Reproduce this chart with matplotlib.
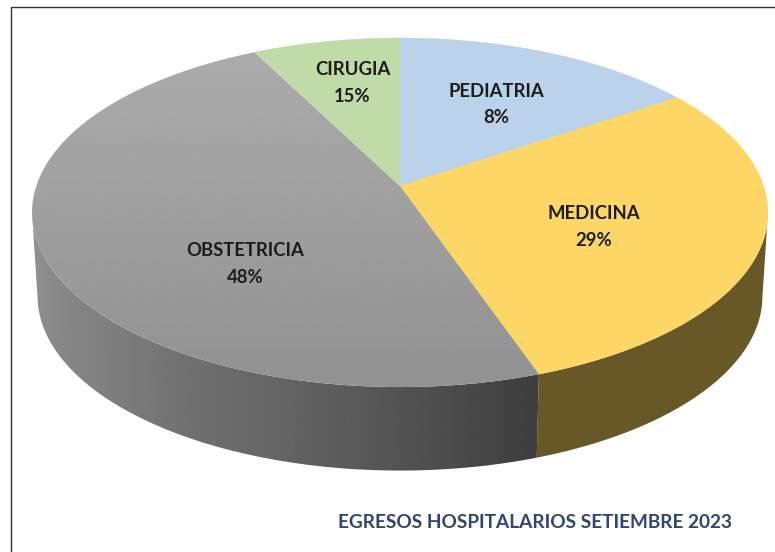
import numpy as np
import matplotlib
matplotlib.use("Agg")
import matplotlib.pyplot as plt
from matplotlib.patches import PathPatch, Polygon
from matplotlib.path import Path

plt.rcParams['font.family'] = ['Lato', 'DejaVu Sans']

categories = ["PEDIATRIA", "MEDICINA", "OBSTETRICIA", "CIRUGIA"]
percent_labels = ["8%", "29%", "48%", "15%"]
slice_shares = [15.5, 29.2, 47.8, 7.5]   # visual share of each slice in the reference
top_colors = ["#BAD3EB", "#FCD766", None, "#C0DAA8"]
title = "EGRESOS HOSPITALARIOS SETIEMBRE 2023"

CX, CY, AX_, AY_, K = 400.0, 186.0, 363.7, 170.5, 0.152
DEPTH, SHRINK = 83.5, 0.985


def rim(theta, r=1.0):
    X, Y = r * np.sin(theta), r * np.cos(theta)
    w = 1 + K * Y
    return CX + AX_ * X / w, CY - AY_ * Y / w


def low(x, y):
    return CX + (x - CX) * SHRINK, y + DEPTH


fig = plt.figure(figsize=(7.75, 5.52), dpi=100, facecolor="white")
ax = fig.add_axes([0, 0, 1, 1])
ax.axis("off")

edges = np.radians(np.concatenate([[0], np.cumsum(slice_shares)]) * 3.6)
# silhouette angles: the wall is only seen between the two side extremes of the rim
vis_lo = np.pi - np.arccos(K)
vis_hi = np.pi + np.arccos(K)

# side walls (medicina and obstetricia are the slices facing the viewer)
for i in (1, 2):
    th = np.linspace(max(edges[i], vis_lo), min(edges[i + 1], vis_hi), 400)
    x, y = rim(th)
    xb, yb = low(x, y)
    verts = list(zip(x, y)) + list(zip(xb[::-1], yb[::-1]))
    verts.append(verts[0])
    if i == 1:
        ax.add_patch(Polygon(verts, closed=True, facecolor="#685828", edgecolor="none", zorder=1))
    else:
        gx = np.linspace(20, 545, 512)
        g = np.interp(gx, [32, 60, 190, 300, 420, 536],
                      [0x90, 0x87, 0x70, 0x62, 0x50, 0x3E]).reshape(1, -1) / 255
        im = ax.imshow(g, cmap="gray", vmin=0, vmax=1, extent=(20, 545, 480, 200),
                       aspect="auto", zorder=1, interpolation="bilinear")
        im.set_clip_path(PathPatch(Path(verts), transform=ax.transData))

# top faces
for i, c in enumerate(top_colors):
    th = np.linspace(edges[i], edges[i + 1], 300)
    x, y = rim(th)
    verts = [(CX, CY)] + list(zip(x, y)) + [(CX, CY)]
    if c is not None:
        ax.add_patch(Polygon(verts, closed=True, facecolor=c, edgecolor=c, linewidth=0.3, zorder=2))
    else:
        grad = np.linspace(0xAD, 0x91, 256).reshape(-1, 1) / 255
        im = ax.imshow(grad, cmap="gray", vmin=0, vmax=1, extent=(20, 780, 395, 30),
                       aspect="auto", zorder=2, interpolation="bilinear")
        im.set_clip_path(PathPatch(Path(verts), transform=ax.transData))
ax.set_xlim(0, 775)
ax.set_ylim(552, 0)

# frame
ax.plot([10.5, 10.5, 775], [552, 6.5, 6.5], color="#333333", lw=1.0, zorder=3, solid_joinstyle="miter")

label_xy = [(496, 104.5), (594, 227), (245.5, 264), (352.5, 83)]
for name, pct, (lx, ly) in zip(categories, percent_labels, label_xy):
    ax.text(lx, ly, f"{name}\n{pct}", ha="center", va="center", fontsize=13.3,
            fontweight="bold", color="#1C1C1C", linespacing=1.66, zorder=4)

ax.text(535.5, 523, title, ha="center", va="center", fontsize=13.7, fontweight="bold",
        color="#2F4573", zorder=4)

fig.savefig("out.png", dpi=100, facecolor="white")
